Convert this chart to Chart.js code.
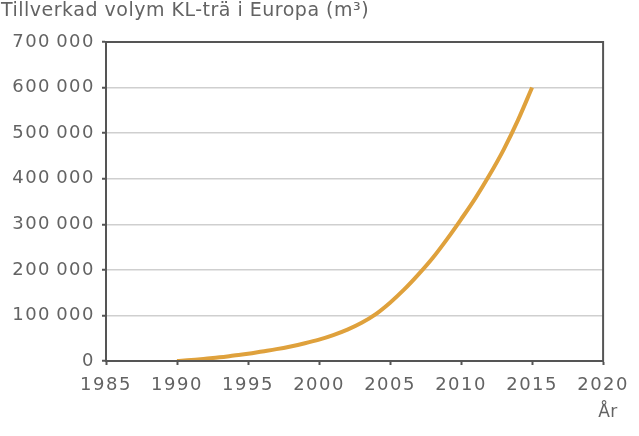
<!DOCTYPE html>
<html>
<head>
<meta charset="utf-8">
<script src="https://cdn.jsdelivr.net/npm/chart.js@4"></script>
<style>
  html, body { margin: 0; padding: 0; background: #fff; }
  #wrap { width: 639px; height: 436px; }
</style>
</head>
<body>
<div id="wrap"><canvas id="chart" width="639" height="436"></canvas></div>
<script>
const years = [1990, 1991, 1992, 1993, 1994, 1995, 1996, 1997, 1998, 1999, 2000,
  2001, 2002, 2003, 2004, 2005, 2006, 2007, 2008, 2009, 2010,
  2011, 2012, 2013, 2014, 2015];
const volume = [0, 2000, 5000, 8000, 12000, 16000, 21000, 26000, 32000, 39000, 47000,
  57000, 69000, 84000, 103000, 128000, 157000, 190000, 226000, 267000, 311000,
  357000, 408000, 464000, 528000, 600000];
const yTicks = [0, 100000, 200000, 300000, 400000, 500000, 600000, 700000];
const xTicks = [1985, 1990, 1995, 2000, 2005, 2010, 2015, 2020];

const titleText = "Tillverkad volym KL-trä i Europa (m³)";
const xUnit = "År";
const fontFamily = "'DejaVu Sans', sans-serif";
const textColor = "#636363";

function fmt(v) {
  return String(v).replace(/\B(?=(\d{3})+(?!\d))/g, "\u2009");
}

const spacing = {
  id: "spacing",
  beforeLayout(chart) { chart.ctx.letterSpacing = "1.5px"; },
  beforeDraw(chart) { chart.ctx.letterSpacing = "1.5px"; }
};

const extras = {
  id: "extras",
  afterDraw(chart) {
    const { ctx, chartArea: a } = chart;
    ctx.save();
    ctx.strokeStyle = "#555";
    ctx.lineWidth = 2;
    ctx.strokeRect(a.left, a.top, a.right - a.left, a.bottom - a.top);
    ctx.fillStyle = textColor;
    ctx.font = "19px " + fontFamily;
    ctx.letterSpacing = "0.5px";
    ctx.textBaseline = "alphabetic";
    ctx.textAlign = "left";
    ctx.fillText(titleText, 1, 16);
    ctx.font = "17px " + fontFamily;
    ctx.textAlign = "center";
    ctx.fillText(xUnit, 608, 417);
    ctx.restore();
  }
};

new Chart(document.getElementById("chart"), {
  type: "line",
  data: {
    datasets: [{
      data: years.map((y, i) => ({ x: y, y: volume[i] })),
      borderColor: "#dfa13c",
      borderWidth: 4,
      pointRadius: 0,
      cubicInterpolationMode: "monotone",
      fill: false
    }]
  },
  options: {
    responsive: false,
    animation: false,
    layout: { padding: { top: 42, right: 26, left: 0, bottom: 0 } },
    plugins: { legend: { display: false }, tooltip: { enabled: false } },
    scales: {
      x: {
        type: "linear",
        min: 1985,
        max: 2020,
        afterBuildTicks(s) { s.ticks = xTicks.map(v => ({ value: v })); },
        afterFit(s) { s.height = 75; },
        ticks: {
          color: textColor,
          font: { family: fontFamily, size: 18 },
          padding: 10,
          maxRotation: 0,
          autoSkip: false,
          callback: v => String(v)
        },
        grid: { drawOnChartArea: false, tickLength: 4, tickColor: "#555", tickWidth: 2 },
        border: { color: "#555", width: 2 }
      },
      y: {
        min: 0,
        max: 700000,
        afterBuildTicks(s) { s.ticks = yTicks.map(v => ({ value: v })); },
        afterFit(s) { s.width = 106; },
        ticks: {
          color: textColor,
          font: { family: fontFamily, size: 18 },
          padding: 7,
          callback: v => fmt(v)
        },
        grid: { color: "#cfcfcf", lineWidth: 1.5, tickLength: 4, tickColor: "#555", tickWidth: 2 },
        border: { color: "#555", width: 2 }
      }
    }
  },
  plugins: [spacing, extras]
});
</script>
</body>
</html>
